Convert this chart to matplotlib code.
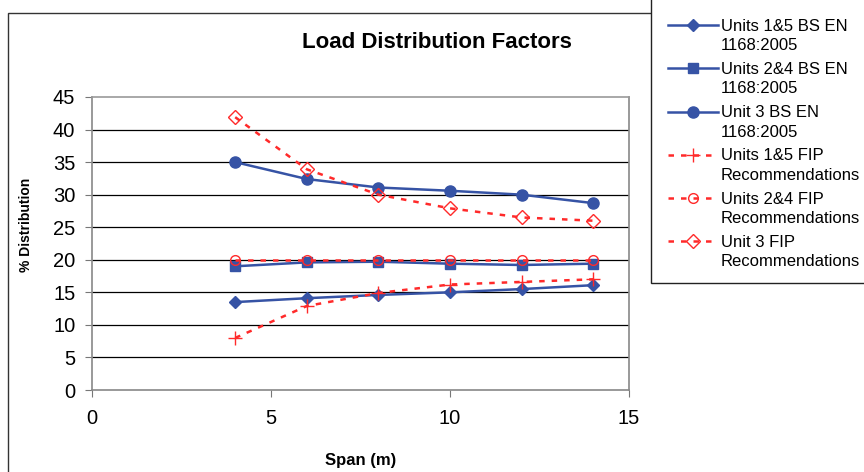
import matplotlib
matplotlib.use("Agg")
import matplotlib.pyplot as plt
from matplotlib.patches import Rectangle
from matplotlib.transforms import Affine2D

span = [4, 6, 8, 10, 12, 14]
bs_units_15 = [13.5, 14.1, 14.6, 15.0, 15.5, 16.1]
bs_units_24 = [19.0, 19.6, 19.7, 19.4, 19.2, 19.4]
bs_unit_3 = [35.0, 32.4, 31.1, 30.6, 30.0, 28.7]
fip_units_15 = [8.0, 12.9, 14.9, 16.2, 16.6, 17.0]
fip_units_24 = [20.0, 20.0, 20.0, 20.0, 20.0, 20.0]
fip_unit_3 = [41.9, 33.9, 30.0, 27.9, 26.5, 26.0]

labels = [
    "Units 1&5 BS EN\n1168:2005",
    "Units 2&4 BS EN\n1168:2005",
    "Unit 3 BS EN\n1168:2005",
    "Units 1&5 FIP\nRecommendations",
    "Units 2&4 FIP\nRecommendations",
    "Unit 3 FIP\nRecommendations",
]

BLUE = "#3653a5"
RED = "#ff2a2a"
plt.rcParams["font.family"] = ["Liberation Sans", "DejaVu Sans"]

W, H = 864, 472
fig = plt.figure(figsize=(W / 100, H / 100), dpi=100)

# outer chart frame and legend box (both run off the image edge)
fig.patches.append(Rectangle((8 / W, -0.1), 1.2, (H - 13) / H + 0.1,
                             transform=fig.transFigure, fill=False,
                             edgecolor="#333333", lw=1.0))
fig.patches.append(Rectangle((651 / W, (H - 283) / H), 1.0, 1.0,
                             transform=fig.transFigure, facecolor="white",
                             edgecolor="#222222", lw=1.0, zorder=3))

ax = fig.add_axes([92 / W, (H - 390) / H, (629 - 92) / W, (390 - 97) / H])

ax.plot(span, bs_units_15, color=BLUE, lw=1.8, marker="D", ms=6, label=labels[0])
ax.plot(span, bs_units_24, color=BLUE, lw=1.8, marker="s", ms=7, label=labels[1])
ax.plot(span, bs_unit_3, color=BLUE, lw=1.8, marker="o", ms=8, label=labels[2])
dash = (0, (2.2, 2.8))
ax.plot(span, fip_units_15, color=RED, lw=1.8, ls=dash, marker="+", ms=10,
        mew=1.0, label=labels[3])
ax.plot(span, fip_units_24, color=RED, lw=1.8, ls=dash, marker="o", ms=7,
        mfc="none", mew=1.0, label=labels[4])
ax.plot(span, fip_unit_3, color=RED, lw=1.8, ls=dash, marker="D", ms=7,
        mfc="none", mew=1.0, label=labels[5])

ax.set_xlim(0, 15)
ax.set_ylim(0, 45)
ax.set_xticks([0, 5, 10, 15])
ax.set_yticks(range(0, 46, 5))
ax.tick_params(labelsize=14.5, colors="black", length=5, color="#777777")
ax.tick_params(axis="x", pad=9)
ax.tick_params(axis="y", pad=7)
for s in ax.spines.values():
    s.set_color("#888888")
    s.set_linewidth(1.2)
for yv in range(5, 45, 5):
    ax.axhline(yv, color="black", lw=0.9, zorder=0)
ax.spines["top"].set_color("#999999")

ax.set_xlabel("Span (m)", fontsize=12, fontweight="bold")
ax.xaxis.set_label_coords(0.5, -(453 - 390) / 293)
ax.set_ylabel("% Distribution", fontsize=10, fontweight="bold")
ax.yaxis.set_label_coords((33 - 92) / 537, (390 - 225) / 293)
fig.text(437 / W, 1 - 42 / H, "Load Distribution Factors", fontsize=16,
         fontweight="bold", ha="center", va="center")

leg = fig.legend(loc="upper left", bbox_to_anchor=(661 / W, 1 - 12 / H),
                 frameon=False, fontsize=12, handlelength=3.0,
                 handletextpad=0.2, labelspacing=0.52, borderaxespad=0)
leg.set_zorder(4)
for t in leg.get_texts():
    t.set_linespacing(1.38)
# put each handle level with the first line of its label
fig.canvas.draw()
for h in leg.legend_handles:
    h.set_transform(h.get_transform() + Affine2D().translate(0, 11))

fig.savefig("out.png", dpi=100)
